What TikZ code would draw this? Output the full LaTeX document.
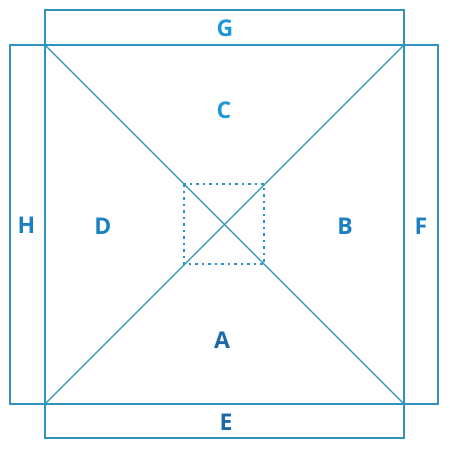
\documentclass[tikz,border=0pt]{standalone}
\usepackage{fontspec}
\setmainfont{Open Sans}
\usetikzlibrary{positioning, calc}

\definecolor{lineblue}{HTML}{2E93BD}
\definecolor{topblue}{HTML}{1F96D6}
\definecolor{midblue}{HTML}{1A80C0}
\definecolor{lowblue}{HTML}{1A68A6}

\begin{document}
\begin{tikzpicture}[x=1pt, y=-1pt,
    every node/.style={font=\fontsize{23}{23}\selectfont\bfseries, inner sep=0pt},
    frame/.style={draw=lineblue, line width=1.2pt}]
        \useasboundingbox (0,0) rectangle (450,450);

        % Define corners of the main square
        \coordinate (nw) at (45,45);
        \coordinate (ne) at (404,45);
        \coordinate (sw) at (45,404);
        \coordinate (se) at (404,404);
        \draw [frame] (nw) rectangle (se); % Main square

        % Outer strips
        \draw [frame] (45,10) rectangle (ne); % Top strip
        \draw [frame] (sw) rectangle (404,438); % Bottom strip
        \draw [frame] (10,45) rectangle (sw); % Left strip
        \draw [frame] (ne) rectangle (438,404); % Right strip

        % Diagonals
        \draw [frame] (nw) -- (se);
        \draw [frame] (sw) -- (ne);

        % Dotted centre square
        \draw [frame, dash pattern=on 2.5pt off 4pt] (184,184) rectangle (264,264);

        % Labels
        \node[text=topblue] (labelG) at (225,28) {G};
        \node[text=topblue] (labelC) at (224,110) {C};
        \node[text=midblue] (labelH) at (26.5,225) {H};
        \node[text=midblue] (labelD) at (103,226) {D};
        \node[text=midblue] (labelB) at (345,226) {B};
        \node[text=midblue] (labelF) at (421,226) {F};
        \node[text=lowblue] (labelA) at (222,340) {A};
        \node[text=lowblue] (labelE) at (226,422) {E};

    \end{tikzpicture}
\end{document}
